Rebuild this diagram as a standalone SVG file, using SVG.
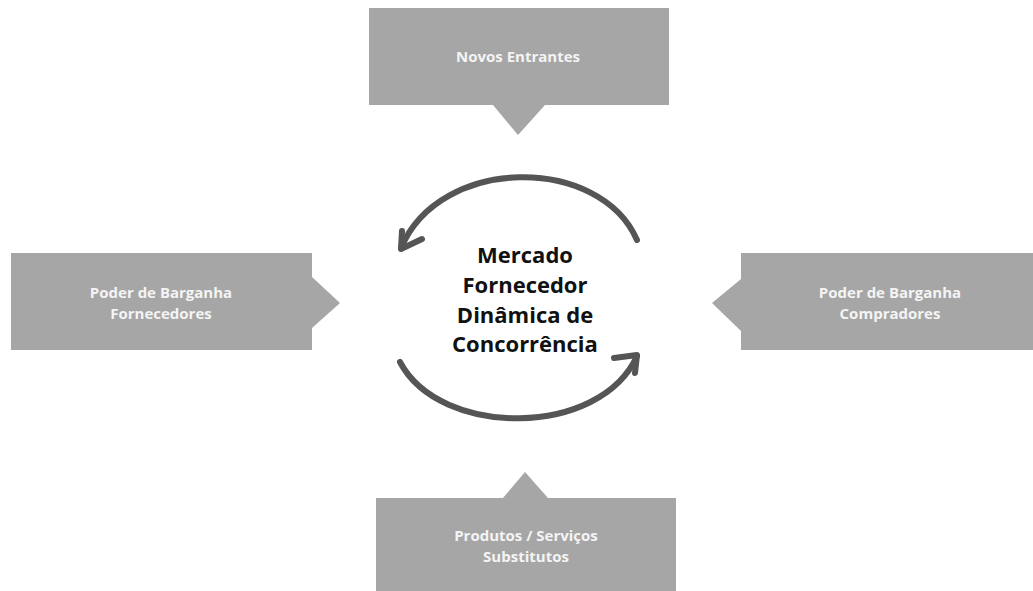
<svg xmlns="http://www.w3.org/2000/svg" width="1033" height="591" viewBox="0 0 1033 591">
<style>
.box{fill:#a6a6a6}
.lbl{font-family:"Open Sans","Liberation Sans",sans-serif;font-weight:bold;font-size:15px;fill:#f4f4f4;text-anchor:middle}
.ctr{font-family:"Open Sans","Liberation Sans",sans-serif;font-weight:bold;font-size:22px;fill:#111;text-anchor:middle}
.arc{fill:none;stroke:#555;stroke-width:6;stroke-linecap:round;stroke-linejoin:round}
</style>
<rect width="1033" height="591" fill="#fff"/>
<g id="novos-entrantes">
<path class="box" d="M369,8 H669 V105 H545 L518,135 L493,105 H369 Z"/>
<text class="lbl" x="518" y="62">Novos Entrantes</text>
</g>
<g id="poder-fornecedores">
<path class="box" d="M11,253 H312 V277 L340,303 L312,328 V350 H11 Z"/>
<text class="lbl" x="161" y="298">Poder de Barganha</text>
<text class="lbl" x="161" y="319">Fornecedores</text>
</g>
<g id="poder-compradores">
<path class="box" d="M741,253 H1033 V350 H741 V331 L712,303 L741,279 Z"/>
<text class="lbl" x="890" y="298">Poder de Barganha</text>
<text class="lbl" x="890" y="319">Compradores</text>
</g>
<g id="substitutos">
<path class="box" d="M376,498 H503 L525,472 L548,498 H676 V591 H376 Z"/>
<text class="lbl" x="526" y="541">Produtos / Serviços</text>
<text class="lbl" x="526" y="562">Substitutos</text>
</g>
<g id="centro">
<text class="ctr" x="525" y="263">Mercado</text>
<text class="ctr" x="525" y="293">Fornecedor</text>
<text class="ctr" x="525" y="323">Dinâmica de</text>
<text class="ctr" x="525" y="352">Concorrência</text>
</g>
<g id="connectors">
<path class="arc" d="M637,240 C600,155 440,155 401,248"/>
<path class="arc" d="M402,231 L401,249 L422,239"/>
<path class="arc" d="M400,362 C440,438 600,438 637,356"/>
<path class="arc" d="M614,358 L637,355 L635,373"/>
</g>
</svg>
